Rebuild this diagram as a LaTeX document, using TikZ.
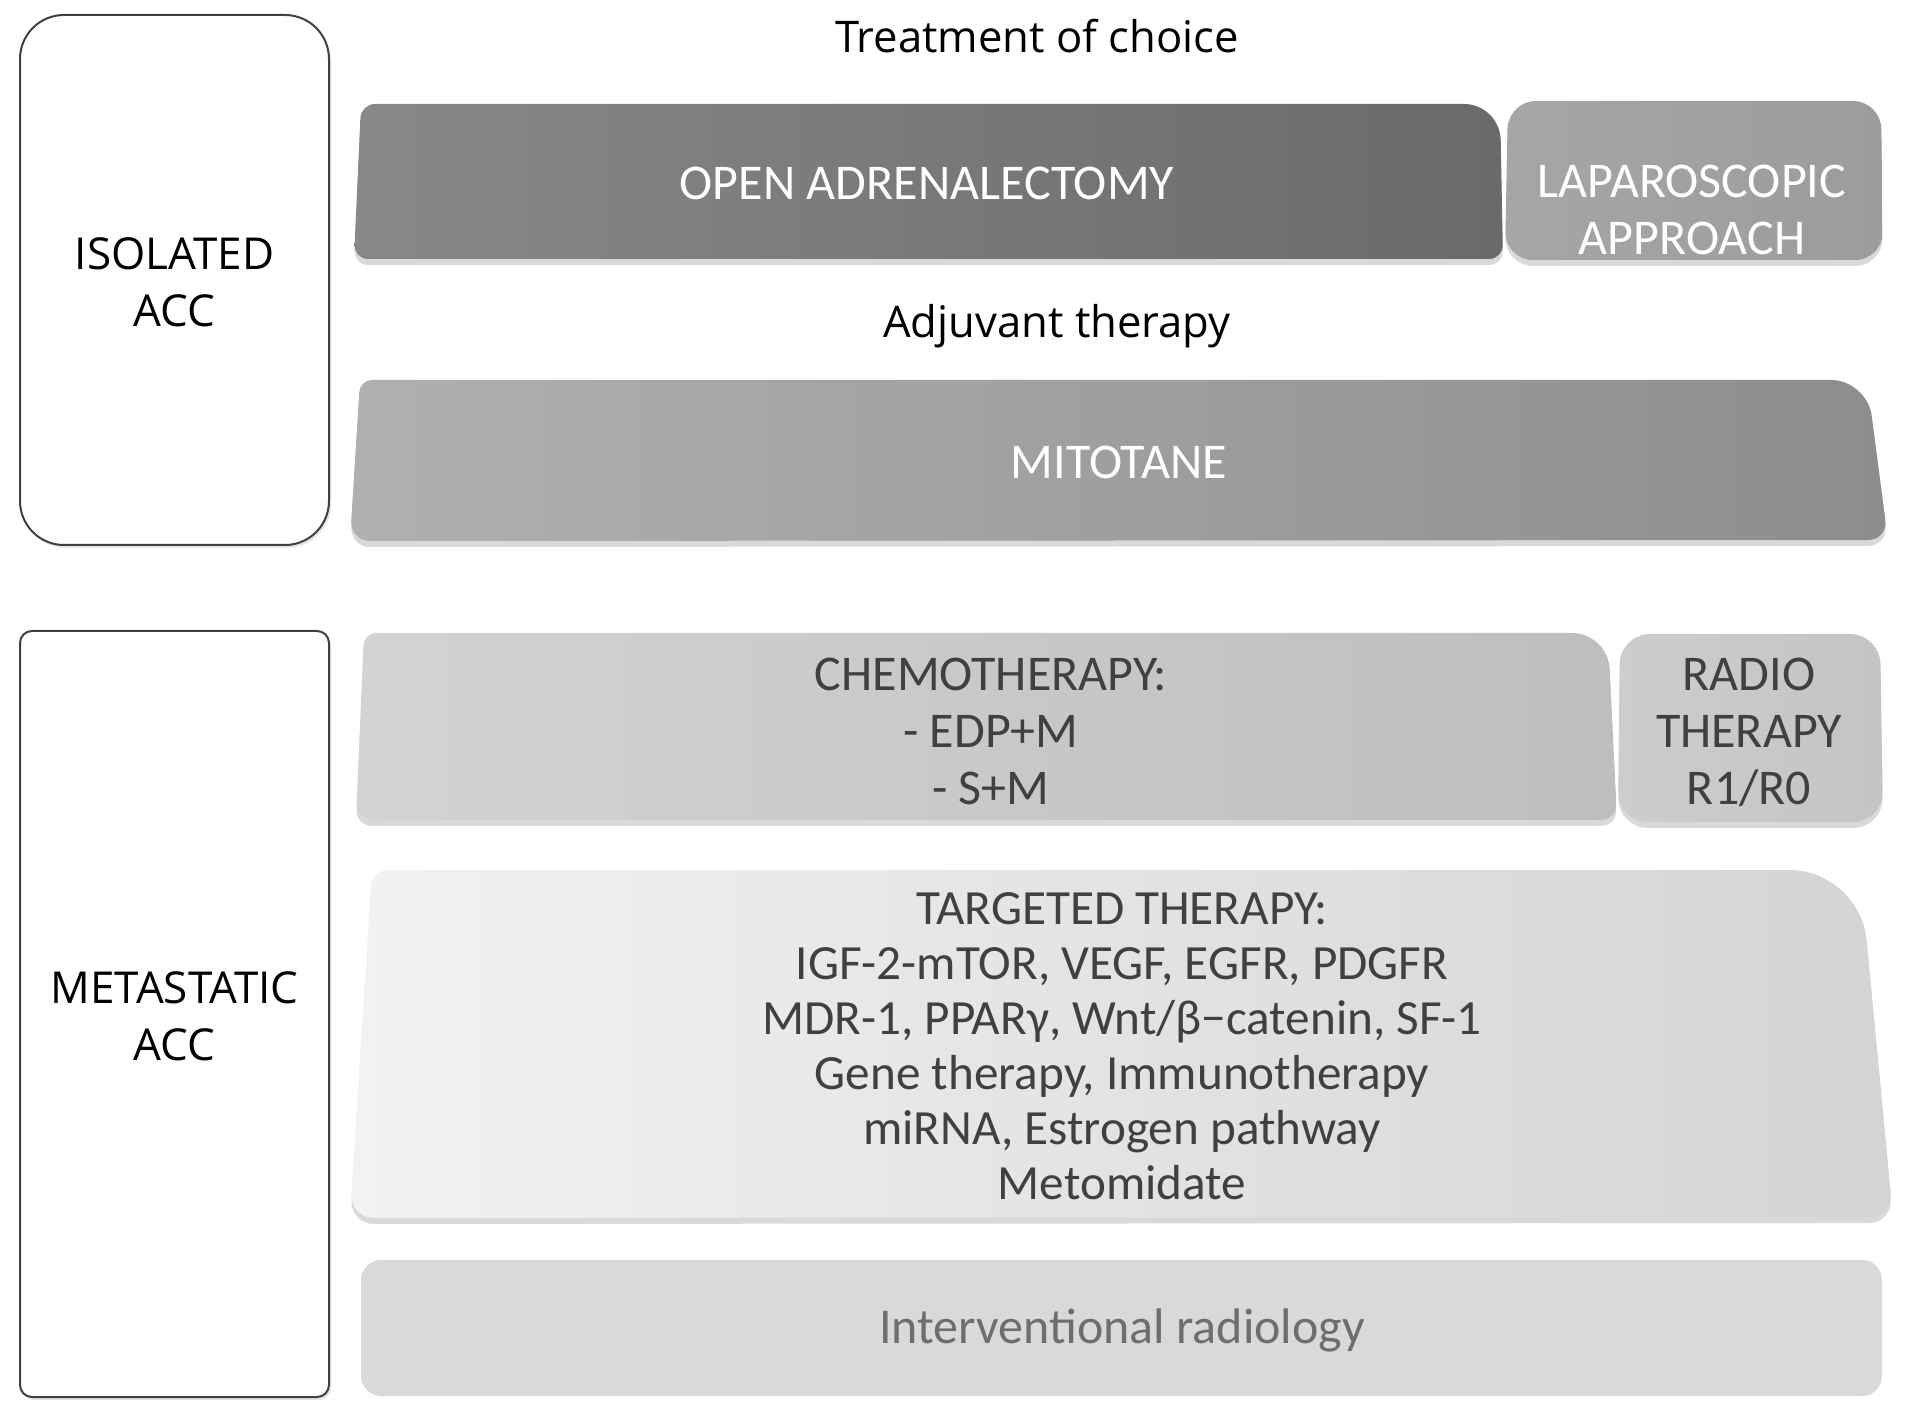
\documentclass[tikz,border=0pt]{standalone}
\usepackage{fontspec}
\setmainfont{Carlito}
\newfontfamily\labelfont{Open Sans}
\usepackage{tikz}
\usetikzlibrary{positioning,shadows}
\usepackage{xcolor}
\definecolor{openL}{HTML}{888888}
\definecolor{openR}{HTML}{6A6A6A}
\definecolor{lapL}{HTML}{A6A6A6}
\definecolor{lapR}{HTML}{9C9C9C}
\definecolor{mitoL}{HTML}{B0B0B0}
\definecolor{mitoR}{HTML}{8D8D8D}
\definecolor{chemoL}{HTML}{D3D3D3}
\definecolor{chemoR}{HTML}{BEBEBE}
\definecolor{radioL}{HTML}{CDCDCD}
\definecolor{radioR}{HTML}{C4C4C4}
\definecolor{targL}{HTML}{F2F2F2}
\definecolor{targR}{HTML}{D4D4D4}
\definecolor{irad}{HTML}{D9D9D9}
\definecolor{darktext}{HTML}{404040}
\definecolor{greytext}{HTML}{6E6E6E}

\begin{document}
\begin{tikzpicture}[
  x=0.5pt, y=-0.5pt,
  every node/.style={align=center, font=\fontsize{25}{28.5}\selectfont},
  stage/.style={draw=black!75, line width=1pt, fill=white, minimum width=154.5pt,
    font=\labelfont\fontsize{22}{28.5}\selectfont,
    drop shadow={shadow xshift=1pt, shadow yshift=-1.5pt, opacity=0.2}},
  head/.style={font=\labelfont\fontsize{21.8}{26}\selectfont},
  band/.style={drop shadow={shadow xshift=0pt, shadow yshift=-3pt, opacity=0.3}},
]
  \useasboundingbox (0,0) rectangle (1913,1422);

  % Stages (left)
  \node[stage, minimum height=265pt, rounded corners=22pt] (iso) at (174.5,280) {\rule{0pt}{18pt}ISOLATED\\ACC};
  \node[stage, minimum height=383pt, rounded corners=6pt] (meta) at (174.5,1014) {\rule{0pt}{18pt}METASTATIC\\ACC};

  % Isolated ACC: surgery + adjuvant
  \node[head] (choice) at (1037,36) {Treatment of choice};
  \shade[band, left color=openL, right color=openR, rounded corners=7pt]
    (354,259) -- (361,104) [rounded corners=18pt] -- (1500,104)
    [rounded corners=7pt] -- (1503,259) -- cycle;
  \shade[band, left color=lapL, right color=lapR, rounded corners=14pt]
    (1505,260) -- (1508,101) -- (1881,101) -- (1883,260) -- cycle;
  \node[text=white] (open) at (927,183) {OPEN ADRENALECTOMY};
  \node[text=white] (lap) at (1692,210) {LAPAROSCOPIC\\APPROACH};

  \node[head] (adj) at (1057,326) {Adjuvant therapy};
  \shade[band, left color=mitoL, right color=mitoR, rounded corners=6pt]
    (350,541) -- (360,380) [rounded corners=18pt] -- (1867,380)
    [rounded corners=10pt] -- (1888,540) -- cycle;
  \node[text=white] (mito) at (1119,462) {MITOTANE};

  % Metastatic ACC
  \shade[band, left color=chemoL, right color=chemoR, rounded corners=6pt]
    (356,820) -- (364,633) [rounded corners=18pt] -- (1608,633)
    [rounded corners=8pt] -- (1617,820) -- cycle;
  \shade[band, left color=radioL, right color=radioR, rounded corners=15pt]
    (1618,822) -- (1620,634) -- (1880,634) -- (1883,822) -- cycle;
  \node[text=darktext] (chemo) at (991,731) {CHEMOTHERAPY:\\- EDP+M\\- S+M};
  \node[text=darktext] (radio) at (1749,732) {RADIO\\THERAPY\\R1/R0};

  \shade[band, left color=targL, right color=targR, rounded corners=8pt]
    (350,1218) -- (372,870) [rounded corners=35pt] -- (1860,870)
    [rounded corners=12pt] -- (1893,1217) -- cycle;
  \node[text=darktext, font=\fontsize{24.6}{27.5}\selectfont] (target) at (1122,1046)
    {TARGETED THERAPY:\\IGF-2-mTOR, VEGF, EGFR, PDGFR\\MDR-1, PPARγ, Wnt/β−catenin, SF-1\\Gene therapy, Immunotherapy\\miRNA, Estrogen pathway\\Metomidate};

  \shade[band, left color=irad, right color=irad, rounded corners=10pt]
    (361,1390) -- (361,1260) -- (1882,1260) -- (1882,1390) -- cycle;
  \node[text=greytext] (irad) at (1122,1330) {Interventional radiology};
\end{tikzpicture}
\end{document}
